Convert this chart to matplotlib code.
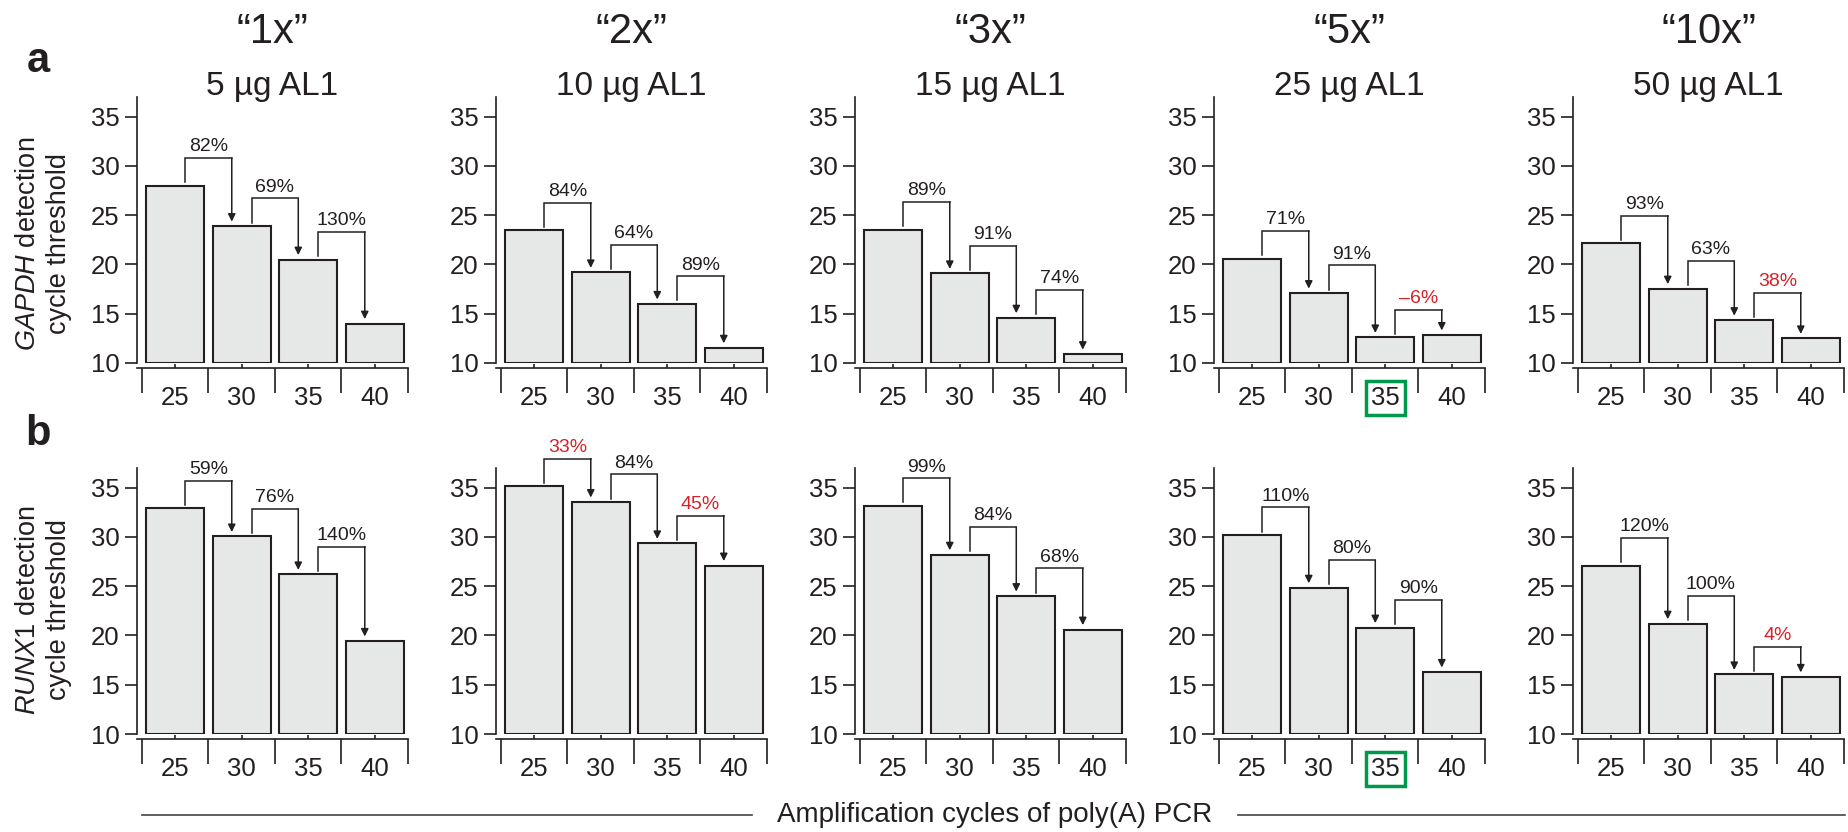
import matplotlib
matplotlib.use('Agg')
import matplotlib.pyplot as plt
from matplotlib.lines import Line2D

plt.rcParams['font.family'] = ['Liberation Sans', 'DejaVu Sans']
plt.rcParams['mathtext.fontset'] = 'custom'
plt.rcParams['mathtext.it'] = 'Liberation Sans:italic'
plt.rcParams['mathtext.rm'] = 'Liberation Sans'

# data
cycles = ['25', '30', '35', '40']
folds = ['\u201c1x\u201d', '\u201c2x\u201d', '\u201c3x\u201d', '\u201c5x\u201d', '\u201c10x\u201d']
amounts = ['5 \u00b5g AL1', '10 \u00b5g AL1', '15 \u00b5g AL1', '25 \u00b5g AL1', '50 \u00b5g AL1']

gapdh_ct = [[28.0, 23.9, 20.5, 14.0],
            [23.45, 19.2, 16.0, 11.55],
            [23.55, 19.1, 14.6, 10.9],
            [20.6, 17.1, 12.6, 12.85],
            [22.15, 17.55, 14.35, 12.5]]
runx1_ct = [[32.9, 30.05, 26.2, 19.45],
            [35.15, 33.55, 29.35, 27.1],
            [33.15, 28.2, 24.0, 20.6],
            [30.2, 24.85, 20.8, 16.3],
            [27.1, 21.2, 16.05, 15.8]]

gapdh_eff = [['82%', '69%', '130%'],
             ['84%', '64%', '89%'],
             ['89%', '91%', '74%'],
             ['71%', '91%', '\u20136%'],
             ['93%', '63%', '38%']]
runx1_eff = [['59%', '76%', '140%'],
             ['33%', '84%', '45%'],
             ['99%', '84%', '68%'],
             ['110%', '80%', '90%'],
             ['120%', '100%', '4%']]
gapdh_red = [[0, 0, 0], [0, 0, 0], [0, 0, 0], [0, 0, 1], [0, 0, 1]]
runx1_red = [[0, 0, 0], [1, 0, 1], [0, 0, 0], [0, 0, 0], [0, 0, 1]]

best_panel = 3   # "5x" panel, 35 cycles boxed
best_cycle = 2

W, H = 1849, 832
dark = '#231f20'
red = '#d7202a'
green = '#00984a'
barfill = '#e6e7e7'

fig = plt.figure(figsize=(W / 100, H / 100), dpi=100)

rows = [(gapdh_ct, gapdh_eff, gapdh_red, 363, '$\\mathit{GAPDH}$ detection\ncycle threshold', 244),
        (runx1_ct, runx1_eff, runx1_red, 734, '$\\mathit{RUNX1}$ detection\ncycle threshold', 610)]

for r, (vals, effs, reds, base_px, ylab, ylab_y) in enumerate(rows):
    for c in range(5):
        left = 137 + 359 * c
        ax = fig.add_axes([left / W, 1 - base_px / H, 271 / W, 266 / H])
        x = list(range(4))
        ax.bar(x, [v - 10 for v in vals[c]], bottom=10, width=0.87,
               color=barfill, edgecolor=dark, linewidth=1.5)
        ax.set_xlim(-0.575, 3.5)
        ax.set_ylim(10, 37)
        ax.set_yticks([10, 15, 20, 25, 30, 35])
        ax.spines['top'].set_visible(False)
        ax.spines['right'].set_visible(False)
        ax.spines['bottom'].set_position(('outward', 3.6))
        for s in ('left', 'bottom'):
            ax.spines[s].set_linewidth(1.2)
            ax.spines[s].set_color(dark)
        ax.tick_params(axis='y', direction='out', length=8.5, width=1.2,
                       labelsize=18.5, pad=4, color=dark, labelcolor=dark)
        ax.set_xticks([-0.5, 0.5, 1.5, 2.5, 3.5])
        ax.set_xticklabels([''] * 5)
        ax.set_xticks(x, minor=True)
        ax.set_xticklabels(cycles, minor=True)
        ax.tick_params(axis='x', which='major', direction='out', length=18,
                       width=1.2, color=dark)
        ax.tick_params(axis='x', which='minor', direction='in', length=3,
                       width=1.2, pad=13, labelsize=18.5, color=dark,
                       labelcolor=dark)
        if c == best_panel:
            lab = ax.get_xticklabels(minor=True)[best_cycle]
            lab.set_bbox(dict(facecolor='none', edgecolor=green,
                              linewidth=2.5, pad=3.5))

        # efficiency brackets
        for i in range(3):
            y0 = vals[c][i]
            y1 = vals[c][i + 1]
            yt = y0 + 2.8
            xl = i + 0.15
            xr = i + 0.85
            ax.plot([xl, xl, xr], [y0 + 0.35, yt, yt], color=dark, lw=1.1,
                    clip_on=False, solid_joinstyle='miter')
            ax.annotate('', xy=(xr, y1 + 0.45), xytext=(xr, yt),
                        arrowprops=dict(arrowstyle='-|>', color=dark, lw=1.1,
                                        mutation_scale=11, shrinkA=0, shrinkB=0),
                        annotation_clip=False)
            ax.annotate(effs[c][i], xy=(i + 0.5, yt), xytext=(0, 2),
                        textcoords='offset points', ha='center', va='bottom',
                        fontsize=14, color=red if reds[c][i] else dark,
                        annotation_clip=False)

        if r == 0:
            cx = (left + 135.5) / W
            fig.text(cx, 1 - 43 / H, folds[c], ha='center', va='baseline',
                     fontsize=30, color=dark)
            fig.text(cx, 1 - 95 / H, amounts[c], ha='center', va='baseline',
                     fontsize=24, color=dark)

    fig.text(43.5 / W, 1 - ylab_y / H, ylab, rotation=90, ha='center',
             va='center', multialignment='center', fontsize=19.5, color=dark,
             linespacing=1.25)

fig.text(27 / W, 1 - 72 / H, 'a', fontsize=30, fontweight='bold',
         ha='left', va='baseline', color=dark)
fig.text(25 / W, 1 - 445 / H, 'b', fontsize=30, fontweight='bold',
         ha='left', va='baseline', color=dark)

fig.text(995 / W, 1 - 815 / H, 'Amplification cycles of poly(A) PCR',
         ha='center', va='center', fontsize=20, color=dark)
fig.add_artist(Line2D([142 / W, 752 / W], [1 - 815 / H, 1 - 815 / H],
                      color='#444444', lw=1.2))
fig.add_artist(Line2D([1238 / W, 1845 / W], [1 - 815 / H, 1 - 815 / H],
                      color='#444444', lw=1.2))

fig.savefig('out.png', dpi=100, facecolor='white')
